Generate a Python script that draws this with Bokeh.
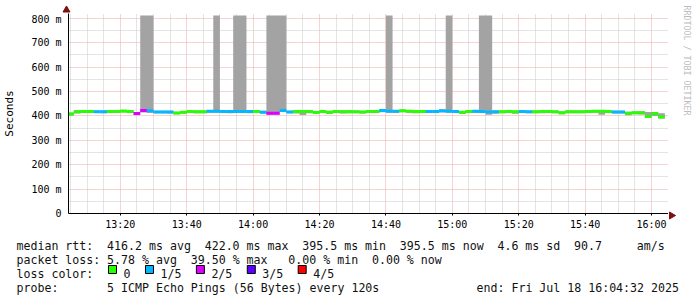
import math
from bokeh.plotting import figure
from bokeh.models import Range1d, FixedTicker
from bokeh.layouts import column, row
from bokeh.embed import file_html
from bokeh.resources import INLINE
from bokeh.core.properties import value

# ---------------- data ----------------
start_time = "13:04"
step_min = 2
median_ms = [408, 417, 418, 418, 417, 417, 418, 418, 420, 418,
             410, 422, 421, 416, 416, 416, 412, 415, 418, 417,
             417, 419, 419, 418, 418, 418, 418, 418, 418, 415,
             411, 411, 422, 416, 418, 418, 418, 414, 418, 415,
             418, 417, 417, 417, 416, 418, 418, 422, 419, 419,
             421, 419, 418, 418, 418, 418, 421, 419, 418, 415,
             418, 419, 418, 416, 417, 417, 418, 417, 418, 417,
             417, 418, 418, 417, 413, 417, 417, 417, 418, 419,
             419, 418, 416, 416, 411, 413, 413, 398, 410, 395.5]
loss = [0, 0, 0, 0, 1, 1, 0, 0, 0, 0,
        2, 2, 1, 1, 1, 1, 0, 0, 0, 0,
        0, 1, 1, 1, 1, 1, 1, 1, 0, 1,
        2, 2, 1, 1, 0, 0, 0, 0, 0, 0,
        0, 0, 0, 0, 0, 0, 0, 1, 1, 1,
        0, 0, 0, 0, 1, 1, 1, 1, 1, 0,
        0, 1, 1, 1, 1, 0, 0, 0, 1, 1,
        0, 0, 0, 0, 0, 0, 0, 0, 0, 0,
        0, 0, 1, 1, 0, 0, 0, 0, 0, 0]
smoke_lo = [402, 410, 412, 412, 412, 411, 412, 413, 414, 412,
            404, 414, 412, 411, 411, 410, 407, 409, 412, 411,
            411, 413, 413, 412, 411, 412, 412, 411, 412, 410,
            405, 405, 416, 411, 410, 404, 411, 408, 412, 408,
            412, 410, 411, 411, 410, 412, 412, 415, 413, 412,
            415, 413, 411, 412, 412, 412, 414, 413, 412, 408,
            412, 412, 412, 405, 409, 411, 412, 409, 412, 411,
            411, 411, 412, 411, 407, 411, 411, 411, 412, 413,
            405, 412, 410, 410, 403, 407, 406, 392, 400, 390]
smoke_hi = [414, 423, 424, 423, 422, 422, 423, 424, 424, 422,
            416, 812, 812, 421, 421, 421, 417, 420, 423, 422,
            422, 424, 812, 423, 423, 812, 812, 423, 424, 421,
            812, 812, 812, 421, 423, 423, 424, 420, 423, 421,
            423, 422, 423, 422, 421, 423, 424, 426, 812, 424,
            426, 424, 423, 424, 423, 423, 426, 812, 423, 420,
            423, 424, 812, 812, 422, 422, 423, 422, 424, 422,
            422, 423, 423, 422, 418, 422, 422, 422, 423, 424,
            424, 423, 421, 421, 417, 418, 419, 416, 416, 411]

x_tick_labels = ["13:20", "13:40", "14:00", "14:20", "14:40", "15:00", "15:20", "15:40", "16:00"]
y_tick_values = [0, 100, 200, 300, 400, 500, 600, 700, 800]
y_tick_labels = ["0", "100 m", "200 m", "300 m", "400 m", "500 m", "600 m", "700 m", "800 m"]

loss_labels = ["0", "1/5", "2/5", "3/5", "4/5"]
loss_colors = ["#26ff00", "#00b8ff", "#dd00ff", "#5e00ff", "#ff0000"]

rtt_parts = ["median rtt:", "416.2 ms avg", "422.0 ms max", "395.5 ms min", "395.5 ms now", "4.6 ms sd", "90.7", "am/s"]
loss_parts = ["packet loss:", "5.78 % avg", "39.50 % max", "0.00 % min", "0.00 % now"]
color_title = "loss color:"
probe_parts = ["probe:", "5 ICMP Echo Pings (56 Bytes) every 120s", "end: Fri Jul 18 16:04:32 2025"]
watermark = "RRDTOOL / TOBI OETIKER"
y_title = "Seconds"

# ---------------- layout constants (page pixels) ----------------
W, H = 697, 297
TOP_H = 232
FL, FR, FT, FB = 66, 668, 13, 215
X_START, X_END = 784.4, 965.1
Y_END = 820
ARROW_COLOR = "#7f1010"


def to_min(s):
    h, m = s.split(":")
    return int(h) * 60 + int(m)


def bare(width, height, xr, yr):
    f = figure(width=width, height=height, x_range=xr, y_range=yr,
               output_backend="svg", toolbar_location=None,
               x_axis_location=None, y_axis_location=None,
               min_border_left=0, min_border_right=0, min_border_top=0, min_border_bottom=0,
               background_fill_color="white", border_fill_color="white", outline_line_color=None)
    f.grid.visible = False
    return f


t0 = to_min(start_time)
left = [t0 + step_min * i for i in range(len(median_ms))]
right = [t + step_min for t in left]
seg_colors = [loss_colors[k] for k in loss]

major_x = [to_min(s) for s in x_tick_labels]
minor_x = [m for m in range(785, 966) if m % 5 == 0 and m % 20 != 0]
minor_y = [v + 50 for v in y_tick_values[:-1]]

# ---------------- main chart ----------------
p = figure(width=FR, height=TOP_H - FT, x_range=Range1d(X_START, X_END), y_range=Range1d(0, Y_END),
           output_backend="svg", toolbar_location=None,
           min_border_left=FL, min_border_right=0, min_border_top=0, min_border_bottom=TOP_H - FB,
           background_fill_color="white", border_fill_color="white", outline_line_color=None)

p.xgrid.ticker = FixedTicker(ticks=major_x, minor_ticks=minor_x)
p.ygrid.ticker = FixedTicker(ticks=y_tick_values[1:], minor_ticks=minor_y)
for g in (p.xgrid[0], p.ygrid[0]):
    g.grid_line_color = "#eaa8a8"
    g.grid_line_dash = "1 1"
    g.minor_grid_line_color = "#c8c8c8"
    g.minor_grid_line_dash = "1 1"

p.xaxis.ticker = FixedTicker(ticks=major_x)
p.xaxis.major_label_overrides = {t: s for t, s in zip(major_x, x_tick_labels)}
p.yaxis.ticker = FixedTicker(ticks=y_tick_values)
p.yaxis.major_label_overrides = {t: s for t, s in zip(y_tick_values, y_tick_labels)}
p.yaxis.axis_label = y_title
for ax in (p.xaxis[0], p.yaxis[0]):
    ax.axis_line_color = "black"
    ax.major_tick_in = 0
    ax.minor_tick_line_color = None
    ax.major_label_text_font = "DejaVu Sans Mono"
    ax.major_label_text_font_size = "10px"
    ax.major_label_text_color = "black"
p.xaxis.major_tick_out = 2
p.xaxis.major_label_standoff = 3
p.yaxis.major_tick_out = 0
p.yaxis.major_label_standoff = 7
p.yaxis.axis_label_text_font = "DejaVu Sans Mono"
p.yaxis.axis_label_text_font_size = "11px"
p.yaxis.axis_label_text_font_style = "normal"
p.yaxis.axis_label_text_color = "black"
p.yaxis.axis_label_standoff = 12

# smoke (continuous step area, no seams) and loss-coloured median
p.varea_step(x=left + [right[-1]], y1=smoke_lo + [smoke_lo[-1]], y2=smoke_hi + [smoke_hi[-1]],
             step_mode="after", fill_color="#a3a3a3")
p.segment(x0=left, y0=median_ms, x1=right, y1=median_ms,
          line_color=seg_colors, line_width=3, line_cap="butt")

# ---------------- top strip with the y-axis arrow ----------------
strip = bare(FR, FT, Range1d(0, FR), Range1d(FT, 0))
strip.scatter(x=[FL], y=[FT - 3.5], marker="triangle", size=7,
              fill_color=ARROW_COLOR, line_color=ARROW_COLOR)

# ---------------- right strip: x-axis arrow and watermark ----------------
wm = bare(W - FR, TOP_H, Range1d(FR, W), Range1d(TOP_H, 0))
wm.scatter(x=[FR + 3], y=[FB], marker="triangle", size=7, angle=-math.pi / 2,
           fill_color=ARROW_COLOR, line_color=ARROW_COLOR)
wm.text(x=[686], y=[5], text=[watermark], angle=-math.pi / 2, text_align="left",
        text_baseline="middle", text_font=value("DejaVu Sans Mono"), text_font_size="8.3px",
        text_color="#bdbdbd")

# ---------------- legend / statistics block ----------------
lg = bare(W, H - TOP_H, Range1d(0, W), Range1d(H, TOP_H))

cw = 6.97
x0 = 16
rtt_cols = [0, 13, 27, 41, 55, 69, 80, 89]
loss_cols = [0, 13, 25, 39, 51]
probe_cols = [0, 13, 66]
baselines = [245, 259, 273, 287]

tx, ty, tt = [], [], []
for parts, cols, b in ((rtt_parts, rtt_cols, baselines[0]),
                       (loss_parts, loss_cols, baselines[1]),
                       ([color_title], [0], baselines[2]),
                       (probe_parts, probe_cols, baselines[3])):
    for s, c in zip(parts, cols):
        tx.append(x0 + c * cw)
        ty.append(b)
        tt.append(s)

bx = []
cur = 108
for lab in loss_labels:
    bx.append(cur)
    tx.append(cur + 15)
    ty.append(baselines[2])
    tt.append(lab)
    cur = cur + 15 + len(lab) * cw + 15

lg.quad(left=bx, right=[b + 8 for b in bx], top=[265] * len(bx), bottom=[273] * len(bx),
        fill_color=loss_colors, line_color="black", line_width=1)
lg.text(x=tx, y=ty, text=tt, text_font=value("DejaVu Sans Mono"), text_font_size="11.6px",
        text_baseline="alphabetic", text_align="left", text_color="#111111")

top_left = column(row(strip), row(p), spacing=0)
top = row(top_left, column(wm), spacing=0)
layout = column(row(top), row(lg), spacing=0)
open("out.html", "w").write(file_html(layout, INLINE))
